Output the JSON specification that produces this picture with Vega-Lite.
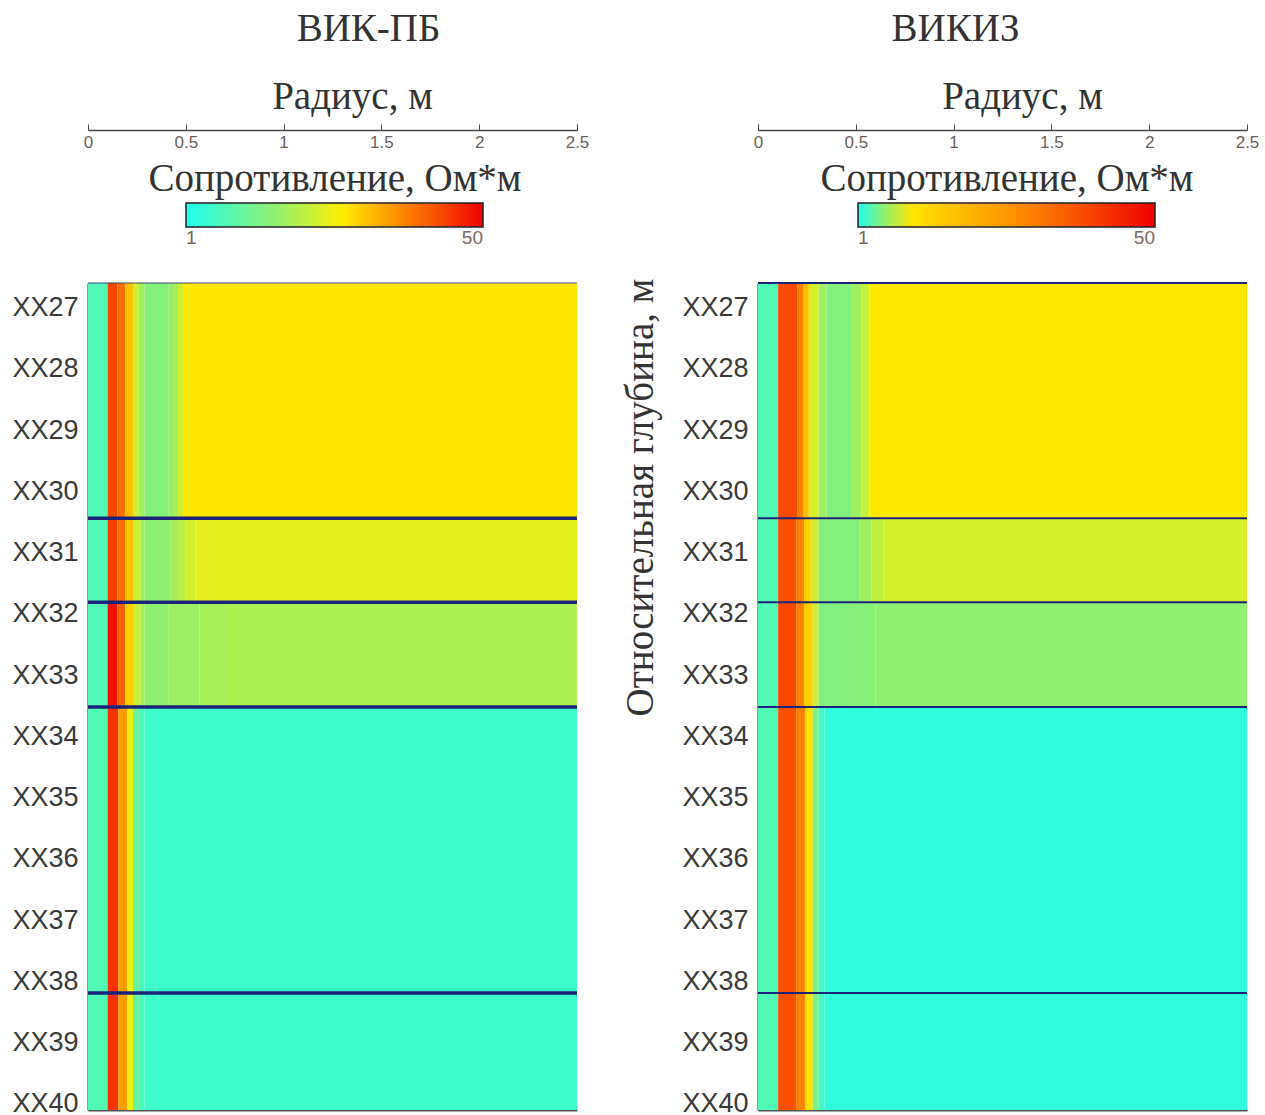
{
  "$schema": "https://vega.github.io/schema/vega-lite/v6.json",
  "background": "white",
  "padding": {"left": 11, "top": 10, "right": 5, "bottom": 0},
  "spacing": 31,
  "datasets": {
    "grid": [
      {"tool": "ВИК-ПБ", "top": 26.6, "base": 30.44, "r0": 0, "r1": 0.1, "rho": 1.7},
      {"tool": "ВИК-ПБ", "top": 26.6, "base": 30.44, "r0": 0.1, "r1": 0.15, "rho": 29},
      {"tool": "ВИК-ПБ", "top": 26.6, "base": 30.44, "r0": 0.15, "r1": 0.19, "rho": 21},
      {"tool": "ВИК-ПБ", "top": 26.6, "base": 30.44, "r0": 0.19, "r1": 0.23, "rho": 10.9},
      {"tool": "ВИК-ПБ", "top": 26.6, "base": 30.44, "r0": 0.23, "r1": 0.26, "rho": 5.5},
      {"tool": "ВИК-ПБ", "top": 26.6, "base": 30.44, "r0": 0.26, "r1": 0.29, "rho": 3.7},
      {"tool": "ВИК-ПБ", "top": 26.6, "base": 30.44, "r0": 0.29, "r1": 0.41, "rho": 2.9},
      {"tool": "ВИК-ПБ", "top": 26.6, "base": 30.44, "r0": 0.41, "r1": 0.44, "rho": 3.4},
      {"tool": "ВИК-ПБ", "top": 26.6, "base": 30.44, "r0": 0.44, "r1": 0.46, "rho": 4.0},
      {"tool": "ВИК-ПБ", "top": 26.6, "base": 30.44, "r0": 0.46, "r1": 0.49, "rho": 5.4},
      {"tool": "ВИК-ПБ", "top": 26.6, "base": 30.44, "r0": 0.49, "r1": 2.5, "rho": 8.2},

      {"tool": "ВИК-ПБ", "top": 30.44, "base": 31.81, "r0": 0, "r1": 0.1, "rho": 1.7},
      {"tool": "ВИК-ПБ", "top": 30.44, "base": 31.81, "r0": 0.1, "r1": 0.15, "rho": 31},
      {"tool": "ВИК-ПБ", "top": 30.44, "base": 31.81, "r0": 0.15, "r1": 0.19, "rho": 21},
      {"tool": "ВИК-ПБ", "top": 30.44, "base": 31.81, "r0": 0.19, "r1": 0.23, "rho": 10.9},
      {"tool": "ВИК-ПБ", "top": 30.44, "base": 31.81, "r0": 0.23, "r1": 0.27, "rho": 5.4},
      {"tool": "ВИК-ПБ", "top": 30.44, "base": 31.81, "r0": 0.27, "r1": 0.29, "rho": 3.6},
      {"tool": "ВИК-ПБ", "top": 30.44, "base": 31.81, "r0": 0.29, "r1": 0.42, "rho": 3.1},
      {"tool": "ВИК-ПБ", "top": 30.44, "base": 31.81, "r0": 0.42, "r1": 0.46, "rho": 3.8},
      {"tool": "ВИК-ПБ", "top": 30.44, "base": 31.81, "r0": 0.46, "r1": 0.5, "rho": 4.6},
      {"tool": "ВИК-ПБ", "top": 30.44, "base": 31.81, "r0": 0.5, "r1": 0.55, "rho": 5.6},
      {"tool": "ВИК-ПБ", "top": 30.44, "base": 31.81, "r0": 0.55, "r1": 2.5, "rho": 6.3},

      {"tool": "ВИК-ПБ", "top": 31.81, "base": 33.52, "r0": 0, "r1": 0.1, "rho": 1.7},
      {"tool": "ВИК-ПБ", "top": 31.81, "base": 33.52, "r0": 0.1, "r1": 0.15, "rho": 44},
      {"tool": "ВИК-ПБ", "top": 31.81, "base": 33.52, "r0": 0.15, "r1": 0.19, "rho": 24},
      {"tool": "ВИК-ПБ", "top": 31.81, "base": 33.52, "r0": 0.19, "r1": 0.23, "rho": 9.7},
      {"tool": "ВИК-ПБ", "top": 31.81, "base": 33.52, "r0": 0.23, "r1": 0.27, "rho": 5.3},
      {"tool": "ВИК-ПБ", "top": 31.81, "base": 33.52, "r0": 0.27, "r1": 0.29, "rho": 3.8},
      {"tool": "ВИК-ПБ", "top": 31.81, "base": 33.52, "r0": 0.29, "r1": 0.41, "rho": 3.2},
      {"tool": "ВИК-ПБ", "top": 31.81, "base": 33.52, "r0": 0.41, "r1": 0.57, "rho": 3.6},
      {"tool": "ВИК-ПБ", "top": 31.81, "base": 33.52, "r0": 0.57, "r1": 0.7, "rho": 3.9},
      {"tool": "ВИК-ПБ", "top": 31.81, "base": 33.52, "r0": 0.7, "r1": 2.5, "rho": 4.2},

      {"tool": "ВИК-ПБ", "top": 33.52, "base": 38.19, "r0": 0, "r1": 0.1, "rho": 1.7},
      {"tool": "ВИК-ПБ", "top": 33.52, "base": 38.19, "r0": 0.1, "r1": 0.155, "rho": 34},
      {"tool": "ВИК-ПБ", "top": 33.52, "base": 38.19, "r0": 0.155, "r1": 0.2, "rho": 14.2},
      {"tool": "ВИК-ПБ", "top": 33.52, "base": 38.19, "r0": 0.2, "r1": 0.23, "rho": 6.8},
      {"tool": "ВИК-ПБ", "top": 33.52, "base": 38.19, "r0": 0.23, "r1": 0.26, "rho": 2.2},
      {"tool": "ВИК-ПБ", "top": 33.52, "base": 38.19, "r0": 0.26, "r1": 0.29, "rho": 1.6},
      {"tool": "ВИК-ПБ", "top": 33.52, "base": 38.19, "r0": 0.29, "r1": 2.5, "rho": 1.4},

      {"tool": "ВИК-ПБ", "top": 38.19, "base": 40.1, "r0": 0, "r1": 0.1, "rho": 1.7},
      {"tool": "ВИК-ПБ", "top": 38.19, "base": 40.1, "r0": 0.1, "r1": 0.155, "rho": 34},
      {"tool": "ВИК-ПБ", "top": 38.19, "base": 40.1, "r0": 0.155, "r1": 0.2, "rho": 14.2},
      {"tool": "ВИК-ПБ", "top": 38.19, "base": 40.1, "r0": 0.2, "r1": 0.23, "rho": 6.8},
      {"tool": "ВИК-ПБ", "top": 38.19, "base": 40.1, "r0": 0.23, "r1": 0.26, "rho": 2.2},
      {"tool": "ВИК-ПБ", "top": 38.19, "base": 40.1, "r0": 0.26, "r1": 0.29, "rho": 1.6},
      {"tool": "ВИК-ПБ", "top": 38.19, "base": 40.1, "r0": 0.29, "r1": 2.5, "rho": 1.4},

      {"tool": "ВИКИЗ", "top": 26.6, "base": 30.44, "r0": 0, "r1": 0.103, "rho": 3.0},
      {"tool": "ВИКИЗ", "top": 26.6, "base": 30.44, "r0": 0.103, "r1": 0.2, "rho": 38.5},
      {"tool": "ВИКИЗ", "top": 26.6, "base": 30.44, "r0": 0.2, "r1": 0.23, "rho": 29.6},
      {"tool": "ВИКИЗ", "top": 26.6, "base": 30.44, "r0": 0.23, "r1": 0.26, "rho": 16.7},
      {"tool": "ВИКИЗ", "top": 26.6, "base": 30.44, "r0": 0.26, "r1": 0.31, "rho": 7.2},
      {"tool": "ВИКИЗ", "top": 26.6, "base": 30.44, "r0": 0.31, "r1": 0.35, "rho": 5.7},
      {"tool": "ВИКИЗ", "top": 26.6, "base": 30.44, "r0": 0.35, "r1": 0.48, "rho": 4.9},
      {"tool": "ВИКИЗ", "top": 26.6, "base": 30.44, "r0": 0.48, "r1": 0.53, "rho": 5.7},
      {"tool": "ВИКИЗ", "top": 26.6, "base": 30.44, "r0": 0.53, "r1": 0.57, "rho": 6.7},
      {"tool": "ВИКИЗ", "top": 26.6, "base": 30.44, "r0": 0.57, "r1": 2.5, "rho": 9.7},

      {"tool": "ВИКИЗ", "top": 30.44, "base": 31.81, "r0": 0, "r1": 0.103, "rho": 3.0},
      {"tool": "ВИКИЗ", "top": 30.44, "base": 31.81, "r0": 0.103, "r1": 0.195, "rho": 37.4},
      {"tool": "ВИКИЗ", "top": 30.44, "base": 31.81, "r0": 0.195, "r1": 0.235, "rho": 29.6},
      {"tool": "ВИКИЗ", "top": 30.44, "base": 31.81, "r0": 0.235, "r1": 0.27, "rho": 13.9},
      {"tool": "ВИКИЗ", "top": 30.44, "base": 31.81, "r0": 0.27, "r1": 0.31, "rho": 7.0},
      {"tool": "ВИКИЗ", "top": 30.44, "base": 31.81, "r0": 0.31, "r1": 0.52, "rho": 4.9},
      {"tool": "ВИКИЗ", "top": 30.44, "base": 31.81, "r0": 0.52, "r1": 0.58, "rho": 5.7},
      {"tool": "ВИКИЗ", "top": 30.44, "base": 31.81, "r0": 0.58, "r1": 0.64, "rho": 6.5},
      {"tool": "ВИКИЗ", "top": 30.44, "base": 31.81, "r0": 0.64, "r1": 2.5, "rho": 7.1},

      {"tool": "ВИКИЗ", "top": 31.81, "base": 33.52, "r0": 0, "r1": 0.103, "rho": 3.0},
      {"tool": "ВИКИЗ", "top": 31.81, "base": 33.52, "r0": 0.103, "r1": 0.195, "rho": 38.7},
      {"tool": "ВИКИЗ", "top": 31.81, "base": 33.52, "r0": 0.195, "r1": 0.235, "rho": 29.6},
      {"tool": "ВИКИЗ", "top": 31.81, "base": 33.52, "r0": 0.235, "r1": 0.28, "rho": 13.9},
      {"tool": "ВИКИЗ", "top": 31.81, "base": 33.52, "r0": 0.28, "r1": 0.31, "rho": 6.8},
      {"tool": "ВИКИЗ", "top": 31.81, "base": 33.52, "r0": 0.31, "r1": 0.45, "rho": 4.8},
      {"tool": "ВИКИЗ", "top": 31.81, "base": 33.52, "r0": 0.45, "r1": 0.6, "rho": 5.0},
      {"tool": "ВИКИЗ", "top": 31.81, "base": 33.52, "r0": 0.6, "r1": 2.5, "rho": 5.2},

      {"tool": "ВИКИЗ", "top": 33.52, "base": 38.19, "r0": 0, "r1": 0.103, "rho": 3.0},
      {"tool": "ВИКИЗ", "top": 33.52, "base": 38.19, "r0": 0.103, "r1": 0.195, "rho": 37.4},
      {"tool": "ВИКИЗ", "top": 33.52, "base": 38.19, "r0": 0.195, "r1": 0.24, "rho": 29.6},
      {"tool": "ВИКИЗ", "top": 33.52, "base": 38.19, "r0": 0.24, "r1": 0.28, "rho": 11},
      {"tool": "ВИКИЗ", "top": 33.52, "base": 38.19, "r0": 0.28, "r1": 0.31, "rho": 4.5},
      {"tool": "ВИКИЗ", "top": 33.52, "base": 38.19, "r0": 0.31, "r1": 0.34, "rho": 2.5},
      {"tool": "ВИКИЗ", "top": 33.52, "base": 38.19, "r0": 0.34, "r1": 2.5, "rho": 1.7},

      {"tool": "ВИКИЗ", "top": 38.19, "base": 40.1, "r0": 0, "r1": 0.103, "rho": 3.0},
      {"tool": "ВИКИЗ", "top": 38.19, "base": 40.1, "r0": 0.103, "r1": 0.195, "rho": 37.4},
      {"tool": "ВИКИЗ", "top": 38.19, "base": 40.1, "r0": 0.195, "r1": 0.24, "rho": 29.6},
      {"tool": "ВИКИЗ", "top": 38.19, "base": 40.1, "r0": 0.24, "r1": 0.28, "rho": 11},
      {"tool": "ВИКИЗ", "top": 38.19, "base": 40.1, "r0": 0.28, "r1": 0.31, "rho": 4.5},
      {"tool": "ВИКИЗ", "top": 38.19, "base": 40.1, "r0": 0.31, "r1": 0.34, "rho": 2.5},
      {"tool": "ВИКИЗ", "top": 38.19, "base": 40.1, "r0": 0.34, "r1": 2.5, "rho": 1.7}
    ],
    "bounds": [
      {"tool": "ВИК-ПБ", "depth": 26.6},
      {"tool": "ВИК-ПБ", "depth": 30.44},
      {"tool": "ВИК-ПБ", "depth": 31.81},
      {"tool": "ВИК-ПБ", "depth": 33.52},
      {"tool": "ВИК-ПБ", "depth": 38.19},
      {"tool": "ВИКИЗ", "depth": 26.6},
      {"tool": "ВИКИЗ", "depth": 30.44},
      {"tool": "ВИКИЗ", "depth": 31.81},
      {"tool": "ВИКИЗ", "depth": 33.52},
      {"tool": "ВИКИЗ", "depth": 38.19}
    ]
  },
  "hconcat": [
    {
      "width": 489,
      "height": 827,
      "title": {"text": "ВИК-ПБ", "dx": 36, "offset": 28},
      "layer": [
        {
          "data": {"name": "grid"},
          "transform": [{"filter": "datum.tool === 'ВИК-ПБ'"}],
          "mark": {"type": "rect"},
          "encoding": {
            "x": {"field": "r0", "type": "quantitative",
                  "scale": {"domain": [0, 2.5], "nice": false, "zero": false},
                  "axis": {"orient": "top", "offset": 153, "title": "Радиус, м", "values": [0, 0.5, 1, 1.5, 2, 2.5]}},
            "x2": {"field": "r1"},
            "y": {"field": "top", "type": "quantitative",
                  "scale": {"domain": [26.6, 40.1], "reverse": true, "nice": false, "zero": false},
                  "axis": {"title": null, "values": [27, 28, 29, 30, 31, 32, 33, 34, 35, 36, 37, 38, 39, 40]}},
            "y2": {"field": "base"},
            "color": {"field": "rho", "type": "quantitative",
                      "scale": {"type": "log", "interpolate": "rgb",
                                "domain": [1, 1.7, 2.9, 5.0, 7.7, 10.9, 16.1, 28.9, 50],
                                "range": ["#1effef", "#51f8b6", "#84f07c", "#c2f03e", "#fff000", "#ffc000", "#ff9000", "#f84800", "#f00000"]},
                      "legend": {"title": "Сопротивление, Ом*м", "values": [1, 50], "legendX": 60, "legendY": -123}}
          }
        },
        {
          "data": {"name": "bounds"},
          "transform": [{"filter": "datum.tool === 'ВИК-ПБ'"}],
          "mark": {"type": "rule", "color": "#1b2378"},
          "encoding": {
            "y": {"field": "depth", "type": "quantitative"},
            "x": {"datum": 0, "type": "quantitative", "axis": {"orient": "bottom", "labels": false, "ticks": false, "title": null, "domainColor": "#555", "domainWidth": 2}},
            "x2": {"datum": 2.5},
            "strokeWidth": {"condition": {"test": "datum.depth < 27", "value": 1.5}, "value": 3.5},
            "opacity": {"condition": {"test": "datum.depth < 27", "value": 0.55}, "value": 1}
          }
        }
      ],
      "resolve": {"axis": {"x": "independent"}}
    },
    {
      "width": 489,
      "height": 827,
      "title": {"text": "ВИКИЗ", "dx": -47, "offset": 28},
      "layer": [
        {
          "data": {"name": "grid"},
          "transform": [{"filter": "datum.tool === 'ВИКИЗ'"}],
          "mark": {"type": "rect"},
          "encoding": {
            "x": {"field": "r0", "type": "quantitative",
                  "scale": {"domain": [0, 2.5], "nice": false, "zero": false},
                  "axis": {"orient": "top", "offset": 153, "title": "Радиус, м", "values": [0, 0.5, 1, 1.5, 2, 2.5]}},
            "x2": {"field": "r1"},
            "y": {"field": "top", "type": "quantitative",
                  "scale": {"domain": [26.6, 40.1], "reverse": true, "nice": false, "zero": false},
                  "axis": {"title": "Относительная глубина, м", "values": [27, 28, 29, 30, 31, 32, 33, 34, 35, 36, 37, 38, 39, 40],
                           "titleAngle": -90, "titleX": -106, "titleY": 214, "titleAlign": "center", "titleBaseline": "alphabetic"}},
            "y2": {"field": "base"},
            "color": {"field": "rho", "type": "quantitative",
                      "scale": {"type": "linear", "interpolate": "rgb",
                                "domain": [1, 3.0, 4.9, 6.6, 8.3, 16.7, 27, 38.7, 50],
                                "range": ["#1effef", "#51f8b6", "#84f07c", "#c2f03e", "#fff000", "#ffc000", "#ff9000", "#f84800", "#f00000"]},
                      "legend": {"title": "Сопротивление, Ом*м", "values": [1, 50], "legendX": 62, "legendY": -123}}
          }
        },
        {
          "data": {"name": "bounds"},
          "transform": [{"filter": "datum.tool === 'ВИКИЗ'"}],
          "mark": {"type": "rule", "color": "#1b2378", "strokeWidth": 2},
          "encoding": {
            "y": {"field": "depth", "type": "quantitative"},
            "x": {"datum": 0, "type": "quantitative", "axis": {"orient": "bottom", "labels": false, "ticks": false, "title": null, "domainColor": "#555", "domainWidth": 2}},
            "x2": {"datum": 2.5}
          }
        }
      ],
      "resolve": {"axis": {"x": "independent"}}
    }
  ],
  "resolve": {"scale": {"color": "independent"}, "legend": {"color": "independent"}},
  "config": {
    "view": {"stroke": null},
    "title": {"font": "Liberation Serif", "fontSize": 39, "fontWeight": "normal", "color": "#333", "anchor": "middle"},
    "axisX": {
      "labelExpr": "'' + datum.value",
      "grid": false,
      "domainColor": "#444", "domainWidth": 1.5,
      "tickColor": "#444", "tickSize": 6,
      "labelPadding": -10, "labelBaseline": "top", "labelFlush": false,
      "labelFont": "Liberation Sans", "labelFontSize": 17, "labelColor": "#6b5e58",
      "titleFont": "Liberation Serif", "titleFontSize": 39, "titleFontWeight": "normal", "titleColor": "#333",
      "titleX": 264, "titleY": -22, "titleBaseline": "alphabetic", "titleAlign": "center"
    },
    "axisY": {
      "labelExpr": "'XX' + datum.value",
      "grid": false, "ticks": false,
      "domainColor": "#333", "domainWidth": 2,
      "labelPadding": 10, "labelOverlap": false,
      "labelFont": "Liberation Sans", "labelFontSize": 27, "labelColor": "#3a3a3a",
      "titleFont": "Liberation Serif", "titleFontSize": 39, "titleFontWeight": "normal", "titleColor": "#333"
    },
    "legend": {
      "orient": "none", "direction": "horizontal",
      "gradientLength": 297, "gradientThickness": 24,
      "gradientStrokeColor": "#222", "gradientStrokeWidth": 1.5,
      "labelFont": "Liberation Sans", "labelFontSize": 19, "labelColor": "#7a6a60", "labelOffset": 2,
      "titleFont": "Liberation Serif", "titleFontSize": 39, "titleFontWeight": "normal", "titleColor": "#333",
      "titleAnchor": "middle", "titleAlign": "center", "titlePadding": 4, "titleLimit": 600
    }
  }
}
